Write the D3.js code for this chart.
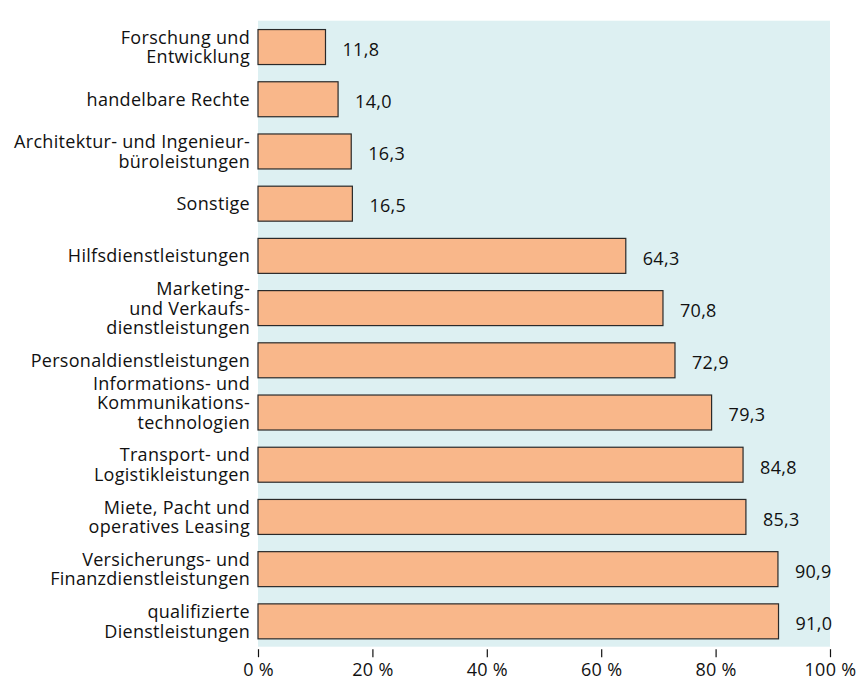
<!DOCTYPE html>
<html><head><meta charset="utf-8">
<script src="https://cdn.jsdelivr.net/npm/d3@7"></script>
<style>
html,body{margin:0;padding:0;background:#fff;}
text{font-family:"Open Sans",sans-serif;fill:#111;letter-spacing:0.3px;}
</style></head>
<body><svg id="c" width="865" height="681"></svg>
<script>
const categories = [
  ["Forschung und","Entwicklung"],
  ["handelbare Rechte"],
  ["Architektur- und Ingenieur-","büroleistungen"],
  ["Sonstige"],
  ["Hilfsdienstleistungen"],
  ["Marketing-","und Verkaufs-","dienstleistungen"],
  ["Personaldienstleistungen"],
  ["Informations- und","Kommunikations-","technologien"],
  ["Transport- und","Logistikleistungen"],
  ["Miete, Pacht und","operatives Leasing"],
  ["Versicherungs- und","Finanzdienstleistungen"],
  ["qualifizierte","Dienstleistungen"]
];
const values = [11.8, 14.0, 16.3, 16.5, 64.3, 70.8, 72.9, 79.3, 84.8, 85.3, 90.9, 91.0];
const tickValues = [0, 20, 40, 60, 80, 100];
const tickLabels = ["0 %", "20 %", "40 %", "60 %", "80 %", "100 %"];

(function(){
const svg = d3.select("#c");
const pL = 258, pR = 830, pT = 20.7, pB = 646.7;
const fs = 18;
const x = d3.scaleLinear().domain([0,100]).range([pL,pR]);
const idx = d3.range(values.length);
const y = d3.scaleBand().domain(idx).range([pT,pB]).paddingInner(0.33).paddingOuter(0.16);

svg.append("rect").attr("x",pL).attr("y",pT).attr("width",pR-pL).attr("height",pB-pT).attr("fill","#ddf0f2");

svg.selectAll("rect.bar").data(values).join("rect").attr("class","bar")
  .attr("x",x(0)).attr("y",(d,i)=>y(i)+0.5).attr("width",d=>x(d)-x(0)).attr("height",y.bandwidth())
  .attr("fill","#f9b78a").attr("stroke","#2a2a2a").attr("stroke-width",1.2);

const fmt = v => v.toFixed(1).replace(".",",");
svg.selectAll("text.val").data(values).join("text").attr("class","val")
  .attr("x",d=>x(d)+17).attr("y",(d,i)=>y(i)+y.bandwidth()/2+4.5)
  .attr("dominant-baseline","middle").attr("font-size",fs).text(fmt);

const lineH = 19.5;
const labelShift = {7:-10};
categories.forEach((lines,i)=>{
  const cy = y(i)+y.bandwidth()/2 + 2 + (labelShift[i]||0);
  const t = svg.append("text").attr("text-anchor","end").attr("font-size",fs).attr("dominant-baseline","middle");
  lines.forEach((l,j)=>{
    t.append("tspan").attr("x",250).attr("y",cy + (j-(lines.length-1)/2)*lineH).text(l);
  });
});

const axis = d3.axisBottom(x).tickValues(tickValues).tickFormat((d,i)=>tickLabels[i]).tickSize(8).tickPadding(6);
const g = svg.append("g").attr("transform",`translate(0,${pB+2.5})`).call(axis);
g.select(".domain").remove();
g.selectAll(".tick line").attr("stroke","#111").attr("stroke-width",1.2);
g.selectAll(".tick text").attr("font-size",fs).attr("font-family","Open Sans, sans-serif").attr("fill","#111");
})();
</script></body></html>
